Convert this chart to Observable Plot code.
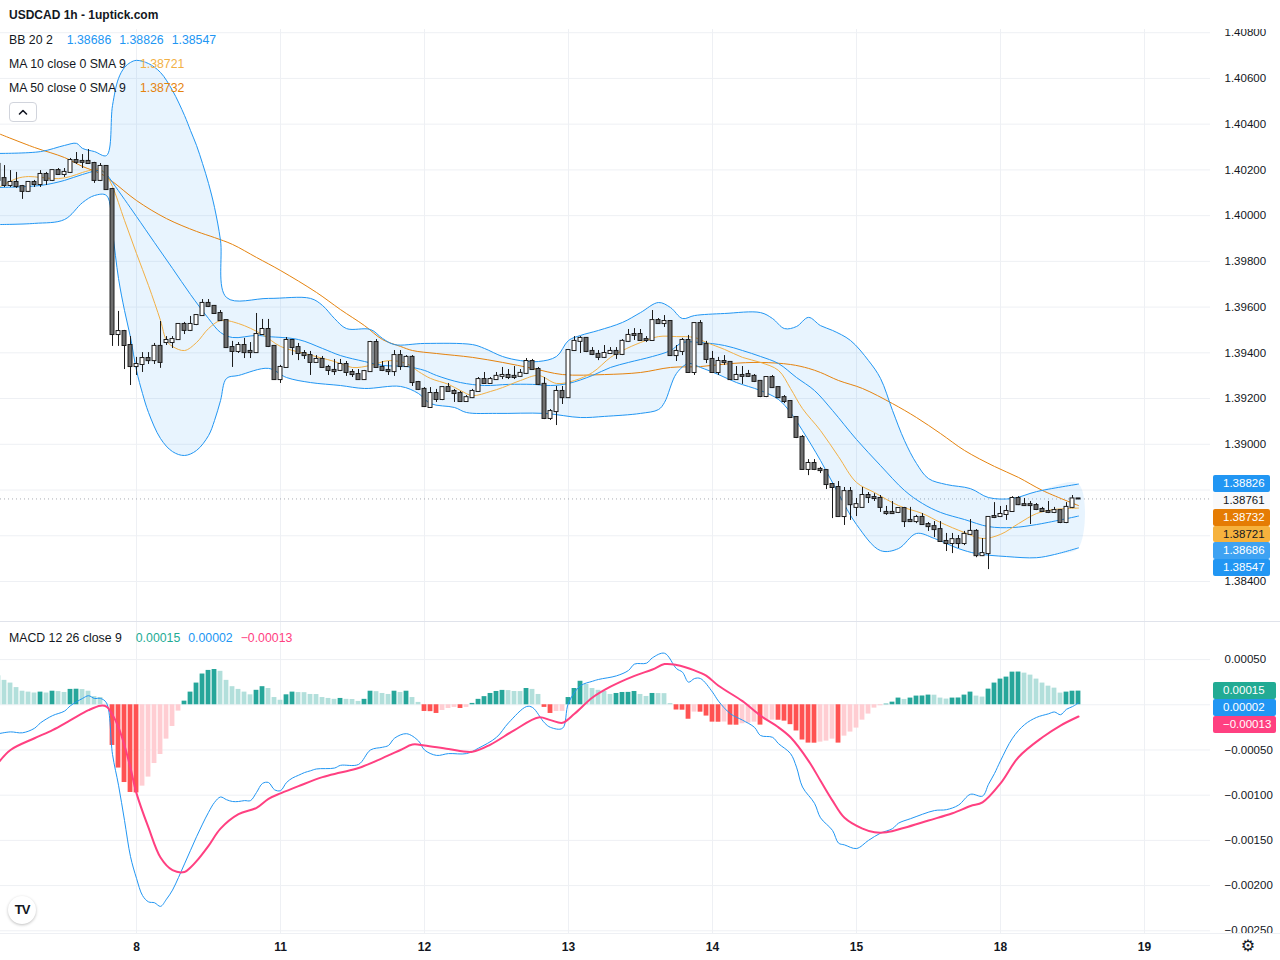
<!DOCTYPE html>
<html>
<head>
<meta charset="utf-8">
<title>USDCAD 1h</title>
<script src="https://cdn.jsdelivr.net/npm/d3@7"></script>
<script src="https://cdn.jsdelivr.net/npm/@observablehq/plot@0.6"></script>
<style>
  html, body { margin: 0; padding: 0; background: #ffffff; }
  #root { position: relative; width: 1280px; height: 960px; overflow: hidden; background: #fff;
          font-family: "Liberation Sans", Arial, sans-serif; color: #131722; }
  .legend { position: absolute; left: 9px; font-size: 12.3px; line-height: 18px; white-space: nowrap; color: #131722; z-index: 5; }
  .legend .v { margin-left: 8px; }
  .legend .v.first { margin-left: 14px; }
  .tag { position: absolute; left: 1213px; font-size: 11.5px; padding-left: 10px;
         box-sizing: border-box; z-index: 6; border-radius: 2px; white-space: nowrap; }
</style>
</head>
<body>
<div id="root"></div>
<script>
// ---------------- DATA (hourly bars; bar 0 = first bar of day 8) ----------------
const firstBar = -23;
const open = [
  1.40224,1.40162,1.40132,1.40145,1.40127,1.40106,1.40145,1.40136,1.40180,1.40154,
  1.40197,1.40180,1.40189,1.40241,1.40237,1.40237,1.40228,1.40154,1.40215,1.40114,
  1.39480,1.39493,1.39432,1.39340,1.39349,1.39375,1.39366,1.39428,1.39445,1.39445,
  1.39458,1.39524,1.39498,1.39524,1.39563,1.39616,1.39603,1.39572,1.39541,1.39423,
  1.39406,1.39432,1.39406,1.39401,1.39480,1.39502,1.39428,1.39283,1.39336,1.39454,
  1.39423,1.39397,1.39388,1.39358,1.39371,1.39336,1.39323,1.39323,1.39349,1.39314,
  1.39305,1.39283,1.39318,1.39445,1.39336,1.39323,1.39318,1.39388,1.39340,1.39380,
  1.39270,1.39240,1.39161,1.39222,1.39196,1.39248,1.39231,1.39222,1.39187,1.39204,
  1.39231,1.39283,1.39266,1.39283,1.39297,1.39301,1.39297,1.39297,1.39310,1.39362,
  1.39327,1.39262,1.39113,1.39143,1.39231,1.39204,1.39410,1.39450,1.39463,1.39406,
  1.39393,1.39380,1.39397,1.39406,1.39393,1.39450,1.39480,1.39480,1.39458,1.39454,
  1.39541,1.39528,1.39537,1.39388,1.39406,1.39454,1.39314,1.39528,1.39436,1.39371,
  1.39314,1.39362,1.39358,1.39283,1.39301,1.39305,1.39297,1.39275,1.39209,1.39292,
  1.39248,1.39204,1.39187,1.39117,1.39030,1.38890,1.38916,1.38890,1.38885,1.38824,
  1.38811,1.38684,1.38793,1.38724,1.38724,1.38776,1.38767,1.38763,1.38702,1.38702,
  1.38702,1.38719,1.38667,1.38662,1.38680,1.38649,1.38640,1.38627,1.38575,1.38566,
  1.38583,1.38566,1.38606,1.38619,1.38513,1.38522,1.38684,1.38684,1.38693,1.38706,
  1.38763,1.38736,1.38736,1.38732,1.38715,1.38706,1.38702,1.38710,1.38658,1.38724,
  1.38761
];
const high = [
  1.40241,1.40219,1.40197,1.40189,1.40132,1.40145,1.40154,1.40197,1.40189,1.40197,
  1.40206,1.40206,1.40250,1.40276,1.40267,1.40289,1.40233,1.40228,1.40219,1.40119,
  1.39581,1.39498,1.39471,1.39380,1.39401,1.39401,1.39441,1.39537,1.39471,1.39471,
  1.39524,1.39533,1.39559,1.39563,1.39633,1.39633,1.39607,1.39585,1.39541,1.39450,
  1.39445,1.39463,1.39445,1.39572,1.39546,1.39546,1.39428,1.39345,1.39467,1.39454,
  1.39441,1.39410,1.39406,1.39388,1.39384,1.39345,1.39371,1.39371,1.39362,1.39327,
  1.39327,1.39323,1.39450,1.39458,1.39362,1.39362,1.39410,1.39410,1.39388,1.39388,
  1.39275,1.39248,1.39248,1.39240,1.39248,1.39266,1.39240,1.39231,1.39213,1.39240,
  1.39292,1.39314,1.39292,1.39314,1.39336,1.39327,1.39340,1.39327,1.39375,1.39371,
  1.39336,1.39292,1.39152,1.39253,1.39253,1.39410,1.39471,1.39471,1.39467,1.39423,
  1.39410,1.39432,1.39423,1.39423,1.39458,1.39502,1.39506,1.39502,1.39471,1.39585,
  1.39550,1.39563,1.39541,1.39432,1.39463,1.39476,1.39528,1.39541,1.39450,1.39406,
  1.39380,1.39388,1.39358,1.39340,1.39340,1.39323,1.39305,1.39275,1.39292,1.39301,
  1.39248,1.39213,1.39191,1.39117,1.39038,1.38933,1.38933,1.38899,1.38890,1.38828,
  1.38837,1.38811,1.38811,1.38763,1.38811,1.38789,1.38784,1.38776,1.38728,1.38750,
  1.38719,1.38724,1.38724,1.38689,1.38697,1.38658,1.38662,1.38662,1.38610,1.38610,
  1.38601,1.38619,1.38671,1.38627,1.38588,1.38680,1.38745,1.38728,1.38732,1.38771,
  1.38771,1.38763,1.38750,1.38741,1.38724,1.38750,1.38724,1.38710,1.38745,1.38776,
  1.38763
];
const low = [
  1.40141,1.40123,1.40123,1.40119,1.40071,1.40101,1.40123,1.40123,1.40132,1.40149,
  1.40176,1.40167,1.40184,1.40224,1.40206,1.40224,1.40141,1.40149,1.40110,1.39428,
  1.39428,1.39327,1.39257,1.39301,1.39314,1.39349,1.39349,1.39332,1.39432,1.39419,
  1.39454,1.39480,1.39493,1.39519,1.39559,1.39598,1.39568,1.39537,1.39419,1.39336,
  1.39397,1.39375,1.39375,1.39397,1.39476,1.39423,1.39279,1.39266,1.39336,1.39388,
  1.39366,1.39371,1.39301,1.39358,1.39332,1.39301,1.39301,1.39318,1.39297,1.39292,
  1.39279,1.39279,1.39318,1.39336,1.39318,1.39301,1.39297,1.39323,1.39336,1.39253,
  1.39235,1.39161,1.39161,1.39183,1.39191,1.39227,1.39183,1.39187,1.39187,1.39200,
  1.39227,1.39266,1.39266,1.39279,1.39283,1.39283,1.39283,1.39292,1.39305,1.39327,
  1.39257,1.39108,1.39104,1.39082,1.39174,1.39200,1.39406,1.39397,1.39401,1.39388,
  1.39366,1.39375,1.39393,1.39371,1.39388,1.39445,1.39454,1.39450,1.39445,1.39454,
  1.39524,1.39511,1.39384,1.39362,1.39388,1.39310,1.39301,1.39432,1.39353,1.39310,
  1.39301,1.39345,1.39279,1.39279,1.39262,1.39292,1.39270,1.39204,1.39204,1.39244,
  1.39200,1.39178,1.39113,1.39025,1.38890,1.38863,1.38885,1.38872,1.38802,1.38675,
  1.38680,1.38645,1.38667,1.38684,1.38724,1.38741,1.38750,1.38702,1.38689,1.38693,
  1.38697,1.38636,1.38658,1.38653,1.38645,1.38619,1.38592,1.38575,1.38531,1.38522,
  1.38544,1.38557,1.38601,1.38504,1.38509,1.38452,1.38675,1.38680,1.38667,1.38702,
  1.38732,1.38728,1.38649,1.38710,1.38702,1.38697,1.38697,1.38653,1.38653,1.38719,
  1.38758
];
const close = [
  1.40154,1.40132,1.40145,1.40127,1.40106,1.40145,1.40136,1.40180,1.40154,1.40197,
  1.40180,1.40189,1.40241,1.40233,1.40233,1.40228,1.40154,1.40215,1.40114,1.39480,
  1.39493,1.39432,1.39340,1.39349,1.39375,1.39366,1.39428,1.39358,1.39454,1.39458,
  1.39524,1.39498,1.39524,1.39563,1.39616,1.39603,1.39572,1.39541,1.39423,1.39406,
  1.39432,1.39401,1.39401,1.39480,1.39502,1.39428,1.39283,1.39336,1.39454,1.39423,
  1.39397,1.39388,1.39358,1.39371,1.39336,1.39323,1.39318,1.39349,1.39314,1.39305,
  1.39283,1.39318,1.39445,1.39336,1.39323,1.39318,1.39388,1.39340,1.39380,1.39270,
  1.39240,1.39165,1.39222,1.39196,1.39248,1.39231,1.39222,1.39187,1.39204,1.39231,
  1.39283,1.39266,1.39283,1.39297,1.39301,1.39292,1.39292,1.39310,1.39362,1.39327,
  1.39262,1.39113,1.39143,1.39231,1.39204,1.39410,1.39450,1.39463,1.39406,1.39393,
  1.39380,1.39397,1.39406,1.39393,1.39450,1.39476,1.39476,1.39454,1.39454,1.39541,
  1.39528,1.39537,1.39388,1.39406,1.39454,1.39314,1.39528,1.39436,1.39371,1.39314,
  1.39362,1.39358,1.39283,1.39301,1.39297,1.39297,1.39275,1.39209,1.39292,1.39248,
  1.39204,1.39187,1.39117,1.39030,1.38890,1.38916,1.38890,1.38885,1.38824,1.38811,
  1.38684,1.38793,1.38736,1.38736,1.38776,1.38767,1.38763,1.38724,1.38697,1.38697,
  1.38719,1.38662,1.38662,1.38680,1.38649,1.38640,1.38627,1.38575,1.38566,1.38583,
  1.38566,1.38606,1.38619,1.38513,1.38522,1.38680,1.38680,1.38693,1.38706,1.38763,
  1.38736,1.38732,1.38732,1.38715,1.38706,1.38702,1.38710,1.38658,1.38724,1.38761,
  1.38761
];

// Day boundaries on the time axis (bar index) and their labels
const dayStartBar = [0, 24, 48, 72, 96, 120, 144, 168];
const dayLabels = ["8", "11", "12", "13", "14", "15", "18", "19"];

const priceTicks = [1.384, 1.386, 1.388, 1.390, 1.392, 1.394, 1.396, 1.398, 1.400, 1.402, 1.404, 1.406, 1.408];
const macdTickLabels = [0.0005, -0.0005, -0.001, -0.0015, -0.002, -0.0025];
const macdGrid = [0.0005, 0, -0.0005, -0.001, -0.0015, -0.002, -0.0025];

// Bollinger Bands (20, 2) read at bar positions: [bar, value]
const bbUpper = [[-23,1.40272],[-16,1.40280],[-12,1.40307],[-10,1.40316],[-9,1.40294],[-7,1.40280],[-5,1.40263],[-4,1.40482],[-3,1.40600],[-2,1.40648],[-1,1.40670],[0,1.40679],[2,1.40665],[4,1.40626],[6,1.40547],[8,1.40438],[9,1.40372],[10,1.40307],[11,1.40228],[12,1.40141],[13,1.40036],[14,1.39891],[15,1.39642],[22,1.39638],[29,1.39638],[31,1.39607],[33,1.39550],[35,1.39506],[39,1.39502],[41,1.39463],[43,1.39436],[48,1.39441],[56,1.39436],[58,1.39419],[61,1.39384],[64,1.39366],[67,1.39362],[70,1.39384],[72,1.39454],[74,1.39476],[77,1.39498],[81,1.39533],[84,1.39576],[87,1.39620],[89,1.39598],[91,1.39550],[93,1.39563],[98,1.39572],[104,1.39576],[106,1.39550],[108,1.39506],[110,1.39515],[112,1.39555],[114,1.39519],[116,1.39498],[119,1.39454],[122,1.39366],[124,1.39288],[126,1.39148],[128,1.39016],[130,1.38916],[132,1.38850],[135,1.38824],[139,1.38806],[142,1.38767],[146,1.38763],[150,1.38793],[157,1.38826]];
const bbBasis = [[-23,1.40123],[-16,1.40132],[-12,1.40154],[-9,1.40180],[-6,1.40197],[-5,1.40180],[-4,1.40145],[-2,1.40071],[0,1.39996],[3,1.39882],[6,1.39769],[9,1.39655],[12,1.39550],[14,1.39489],[16,1.39467],[20,1.39476],[22,1.39471],[27,1.39458],[31,1.39419],[34,1.39388],[38,1.39362],[41,1.39345],[45,1.39340],[48,1.39323],[50,1.39301],[54,1.39270],[58,1.39257],[62,1.39262],[66,1.39262],[69,1.39257],[72,1.39266],[76,1.39301],[79,1.39336],[82,1.39358],[86,1.39384],[89,1.39410],[91,1.39445],[94,1.39445],[98,1.39432],[101,1.39410],[104,1.39384],[107,1.39353],[110,1.39292],[113,1.39235],[116,1.39148],[120,1.39021],[124,1.38907],[128,1.38798],[131,1.38741],[134,1.38702],[138,1.38671],[142,1.38640],[146,1.38636],[150,1.38649],[157,1.38686]];
const bbLower = [[-23,1.39961],[-17,1.39966],[-12,1.39983],[-9,1.40057],[-7,1.40088],[-5,1.40088],[-4,1.39926],[-3,1.39725],[-2,1.39585],[-1,1.39467],[0,1.39323],[1,1.39222],[2,1.39139],[4,1.39025],[6,1.38968],[8,1.38951],[10,1.38973],[12,1.39038],[13,1.39104],[14,1.39191],[15,1.39288],[17,1.39301],[22,1.39332],[25,1.39292],[29,1.39270],[34,1.39257],[38,1.39244],[44,1.39253],[47,1.39222],[49,1.39178],[53,1.39161],[55,1.39139],[60,1.39135],[68,1.39135],[74,1.39117],[78,1.39122],[84,1.39135],[87,1.39152],[88,1.39183],[90,1.39310],[92,1.39353],[94,1.39336],[97,1.39305],[100,1.39270],[104,1.39235],[107,1.39196],[109,1.39139],[111,1.39060],[114,1.38929],[117,1.38784],[120,1.38649],[124,1.38535],[127,1.38544],[130,1.38610],[133,1.38588],[137,1.38544],[140,1.38522],[145,1.38509],[150,1.38504],[153,1.38518],[157,1.38547]];

// Moving averages: [bar, value]
const ma10 = [[-23,1.40123],[-20,1.40162],[-18,1.40171],[-16,1.40167],[-13,1.40162],[-11,1.40171],[-9,1.40189],[-7,1.40202],[-6,1.40202],[-5,1.40176],[-4,1.40127],[-2,1.39979],[0,1.39834],[2,1.39694],[4,1.39541],[5,1.39454],[6,1.39428],[8,1.39410],[10,1.39445],[12,1.39506],[14,1.39541],[17,1.39528],[21,1.39480],[24,1.39428],[28,1.39397],[33,1.39362],[36,1.39336],[39,1.39345],[42,1.39366],[45,1.39353],[47,1.39318],[49,1.39288],[52,1.39262],[54,1.39235],[56,1.39213],[59,1.39231],[61,1.39248],[64,1.39279],[67,1.39301],[70,1.39266],[73,1.39279],[76,1.39314],[79,1.39380],[81,1.39410],[84,1.39445],[87,1.39471],[90,1.39471],[93,1.39467],[95,1.39445],[98,1.39415],[101,1.39380],[104,1.39358],[107,1.39323],[109,1.39244],[111,1.39156],[114,1.39060],[117,1.38946],[120,1.38833],[123,1.38789],[127,1.38732],[131,1.38697],[134,1.38658],[138,1.38614],[141,1.38588],[144,1.38606],[147,1.38653],[150,1.38697],[153,1.38715],[157,1.38721]];
const ma50 = [[-23,1.40359],[-17,1.40298],[-12,1.40254],[-9,1.40215],[-6,1.40184],[-4,1.40149],[0,1.40066],[5,1.39987],[10,1.39931],[13,1.39904],[16,1.39874],[20,1.39817],[24,1.39760],[30,1.39664],[34,1.39589],[38,1.39519],[41,1.39458],[44,1.39428],[46,1.39410],[50,1.39397],[56,1.39380],[61,1.39358],[66,1.39332],[71,1.39305],[78,1.39305],[84,1.39314],[89,1.39336],[94,1.39340],[99,1.39353],[104,1.39358],[109,1.39349],[112,1.39332],[114,1.39314],[117,1.39279],[121,1.39244],[126,1.39178],[130,1.39117],[134,1.39047],[138,1.38973],[143,1.38903],[147,1.38855],[151,1.38798],[157,1.38732]];

// MACD (12, 26, 9)
const macdLine = [[-23,-0.00032],[-21,-0.00030],[-19,-0.00031],[-17,-0.00026],[-16,-0.00020],[-14,-0.00012],[-12,-0.00007],[-11,-0.00001],[-9,0.00007],[-8,0.00010],[-7,0.00007],[-6,0.00007],[-5,0.00002],[-4,-0.00055],[-3,-0.00089],[-2,-0.00128],[-1,-0.00168],[0,-0.00192],[1,-0.00211],[2,-0.00218],[3,-0.00219],[4,-0.00223],[5,-0.00215],[6,-0.00205],[7,-0.00191],[8,-0.00176],[9,-0.00161],[10,-0.00146],[11,-0.00132],[12,-0.00119],[13,-0.00108],[14,-0.00102],[15,-0.00105],[16,-0.00107],[17,-0.00107],[18,-0.00106],[19,-0.00106],[20,-0.00097],[21,-0.00087],[22,-0.00086],[23,-0.00094],[24,-0.00095],[25,-0.00086],[26,-0.00081],[27,-0.00078],[28,-0.00075],[29,-0.00073],[30,-0.00071],[33,-0.00070],[34,-0.00067],[37,-0.00066],[39,-0.00050],[41,-0.00047],[42,-0.00045],[43,-0.00037],[45,-0.00032],[47,-0.00040],[48,-0.00050],[50,-0.00056],[52,-0.00054],[55,-0.00054],[57,-0.00048],[60,-0.00036],[62,-0.00020],[65,-0.00002],[66,-0.00003],[68,-0.00020],[69,-0.00025],[71,-0.00026],[72,0.00002],[74,0.00021],[76,0.00026],[77,0.00028],[80,0.00032],[82,0.00038],[83,0.00045],[85,0.00046],[86,0.00052],[88,0.00057],[90,0.00040],[91,0.00036],[92,0.00025],[93,0.00029],[94,0.00029],[96,0.00014],[97,0.00004],[99,-0.00010],[101,-0.00017],[103,-0.00025],[104,-0.00034],[106,-0.00036],[107,-0.00043],[109,-0.00054],[110,-0.00069],[111,-0.00091],[113,-0.00109],[114,-0.00125],[116,-0.00139],[117,-0.00153],[118,-0.00155],[120,-0.00159],[122,-0.00150],[124,-0.00142],[126,-0.00137],[127,-0.00131],[129,-0.00126],[133,-0.00117],[135,-0.00116],[137,-0.00111],[139,-0.00099],[141,-0.00101],[142,-0.00088],[143,-0.00076],[144,-0.00062],[146,-0.00037],[148,-0.00022],[150,-0.00014],[152,-0.00010],[153,-0.00008],[154,-0.00011],[155,-0.00005],[156,-0.00002],[157,0.00002]];
const signalLine = [[-23,-0.00064],[-21,-0.00050],[-17,-0.00037],[-14,-0.00028],[-11,-0.00017],[-8,-0.00006],[-6,-0.00001],[-5,-0.00002],[-4,-0.00011],[-3,-0.00025],[-2,-0.00045],[-1,-0.00070],[0,-0.00098],[2,-0.00136],[4,-0.00169],[6,-0.00183],[8,-0.00185],[9,-0.00180],[10,-0.00173],[12,-0.00156],[14,-0.00137],[17,-0.00121],[20,-0.00114],[22,-0.00104],[24,-0.00098],[27,-0.00090],[31,-0.00080],[34,-0.00075],[37,-0.00070],[41,-0.00059],[44,-0.00050],[46,-0.00044],[48,-0.00045],[52,-0.00049],[56,-0.00052],[59,-0.00044],[63,-0.00028],[67,-0.00014],[69,-0.00017],[71,-0.00020],[73,-0.00010],[76,0.00008],[79,0.00020],[83,0.00032],[86,0.00039],[88,0.00045],[90,0.00044],[93,0.00038],[95,0.00032],[97,0.00021],[101,0.00004],[104,-0.00012],[107,-0.00025],[109,-0.00036],[112,-0.00062],[114,-0.00084],[116,-0.00106],[118,-0.00125],[121,-0.00137],[123,-0.00141],[125,-0.00141],[128,-0.00136],[132,-0.00128],[136,-0.00120],[139,-0.00112],[141,-0.00108],[144,-0.00087],[147,-0.00058],[151,-0.00036],[154,-0.00023],[157,-0.00013]];
const histogram = [
  0.000320,0.000270,0.000240,0.000190,0.000150,0.000140,0.000130,0.000140,0.000130,0.000150,
  0.000146,0.000136,0.000170,0.000172,0.000168,0.000150,0.000090,0.000080,0.000005,-0.000450,
  -0.000700,-0.000860,-0.000970,-0.000975,-0.000900,-0.000800,-0.000650,-0.000550,-0.000380,-0.000240,
  -0.000070,0.000040,0.000140,0.000240,0.000340,0.000380,0.000390,0.000370,0.000270,0.000200,
  0.000170,0.000140,0.000110,0.000160,0.000200,0.000180,0.000080,0.000050,0.000110,0.000140,
  0.000135,0.000134,0.000114,0.000113,0.000080,0.000070,0.000060,0.000070,0.000060,0.000058,
  0.000037,0.000060,0.000150,0.000145,0.000125,0.000114,0.000150,0.000136,0.000150,0.000080,
  0.000026,-0.000074,-0.000076,-0.000096,-0.000063,-0.000041,-0.000029,-0.000041,-0.000029,0.000015,
  0.000060,0.000090,0.000125,0.000147,0.000159,0.000157,0.000147,0.000146,0.000180,0.000170,
  0.000114,-0.000029,-0.000096,-0.000074,-0.000073,0.000080,0.000180,0.000260,0.000225,0.000180,
  0.000160,0.000147,0.000114,0.000125,0.000136,0.000137,0.000147,0.000114,0.000092,0.000125,
  0.000124,0.000123,0.000013,-0.000058,-0.000060,-0.000160,-0.000081,-0.000082,-0.000125,-0.000192,
  -0.000193,-0.000191,-0.000225,-0.000226,-0.000210,-0.000202,-0.000192,-0.000225,-0.000170,-0.000169,
  -0.000171,-0.000181,-0.000220,-0.000290,-0.000390,-0.000424,-0.000425,-0.000413,-0.000402,-0.000380,
  -0.000424,-0.000347,-0.000302,-0.000258,-0.000170,-0.000103,-0.000037,-0.000011,0.000007,0.000029,
  0.000074,0.000059,0.000074,0.000096,0.000097,0.000107,0.000106,0.000074,0.000063,0.000074,
  0.000075,0.000107,0.000140,0.000096,0.000085,0.000173,0.000240,0.000284,0.000306,0.000361,
  0.000362,0.000350,0.000328,0.000284,0.000240,0.000206,0.000184,0.000129,0.000140,0.000150,
  0.000151
];

// ---------------- STYLE ----------------
const C = {
  grid: "#eef0f4", wick: "#1b1b1b", down: "#6f6f6f", up: "#ffffff",
  bb: "#2196f3", ma10: "#f2b045", ma50: "#e5830e",
  macd: "#2196f3", signal: "#ff4081",
  histUpStrong: "#26a69a", histUpWeak: "#b2dfdb", histDnStrong: "#ff5252", histDnWeak: "#ffcdd2"
};
const FONT = '"Liberation Sans", Arial, sans-serif';
const curve = "catmull-rom";
const xScale = {domain: [-22.67, 179], axis: null};
const pt = {x: d => d[0], y: d => d[1]};
const fmt5 = v => (v < 0 ? "\u2212" : "") + Math.abs(v).toFixed(5);
const lastOf = a => a[a.length - 1][1];
const TAG_H = 16.8;

const priceDomain = [1.38225, 1.40814], PRICE_TOP = 29, PRICE_H = 592;
const macdDomain = [-0.00253, 0.00091], MACD_TOP = 622, MACD_H = 311;

const bars = d3.range(firstBar, firstBar + close.length);
const candles = bars.map((k, i) => ({k, o: open[i], h: high[i], l: low[i], c: close[i]}));
const histData = bars.map((k, i) => {
  const v = histogram[i], p = i > 0 ? histogram[i - 1] : null;
  let fill;
  if (v >= 0) fill = (p !== null && v > p) ? C.histUpStrong : C.histUpWeak;
  else fill = (p !== null && v < p) ? C.histDnStrong : C.histDnWeak;
  return {k, v, fill};
});
const bandPolygon = bbUpper.concat(bbLower.slice().reverse());

// Value tags on the right axes, stacked so that they do not overlap
function layoutTags(items, domain, h) {
  const y = d3.scaleLinear().domain(domain).range([h, 0]);
  items.forEach(it => it.y = y(it.v));
  items.sort((a, b) => a.y - b.y);
  let prev = -Infinity;
  for (const it of items) { it.top = Math.max(it.y - TAG_H / 2, prev); prev = it.top + TAG_H; }
  return {items, y};
}
const priceTagLayout = layoutTags([
  {v: lastOf(bbUpper), bg: "#2196f3", fg: "#ffffff"},
  {v: close[close.length - 1], bg: "#f8f9fb", fg: "#131722"},
  {v: lastOf(ma50), bg: "#e57c03", fg: "#ffffff"},
  {v: lastOf(ma10), bg: "#f6b23d", fg: "#131722"},
  {v: lastOf(bbBasis), bg: "#3ea2f2", fg: "#ffffff"},
  {v: lastOf(bbLower), bg: "#2196f3", fg: "#ffffff"}
], priceDomain, PRICE_H);
const macdTagLayout = layoutTags([
  {v: histogram[histogram.length - 1], bg: "#22ab94", fg: "#ffffff"},
  {v: lastOf(macdLine), bg: "#2196f3", fg: "#ffffff"},
  {v: lastOf(signalLine), bg: "#ff4081", fg: "#ffffff"}
], macdDomain, MACD_H);
// axis tick labels hidden behind a tag are not drawn (as on the original)
const visibleTicks = (ticks, layout) => ticks.filter(t => {
  const ty = layout.y(t);
  return layout.items.every(it => ty < it.top || ty > it.top + TAG_H);
});

const root = document.getElementById("root");
function addDiv(css, html) {
  const d = document.createElement("div");
  d.style.cssText = css;
  if (html != null) d.innerHTML = html;
  root.appendChild(d);
  return d;
}

// ---------------- PRICE PANE ----------------
const pricePlot = Plot.plot({
  width: 1280, height: PRICE_H,
  marginLeft: 0, marginRight: 70, marginTop: 0, marginBottom: 0,
  style: {background: "transparent", fontFamily: FONT, fontSize: "11.5px", color: "#131722"},
  x: xScale,
  y: {domain: priceDomain, axis: "right", ticks: visibleTicks(priceTicks, priceTagLayout),
      tickFormat: d => d.toFixed(5), tickSize: 0, tickPadding: 14, label: null},
  color: {type: "identity"},
  marks: [
    Plot.ruleY(priceTicks, {stroke: C.grid, strokeWidth: 1}),
    Plot.ruleX(dayStartBar, {stroke: C.grid, strokeWidth: 1}),
    Plot.ruleY([close[close.length - 1]], {stroke: "#9598a1", strokeDasharray: "1,3", strokeOpacity: 0.8}),
    Plot.line(bandPolygon, {...pt, fill: C.bb, fillOpacity: 0.1, stroke: "none", curve}),
    Plot.line(ma50, {...pt, stroke: C.ma50, strokeWidth: 1, curve}),
    Plot.line(bbUpper, {...pt, stroke: C.bb, strokeWidth: 1, curve}),
    Plot.line(bbLower, {...pt, stroke: C.bb, strokeWidth: 1, curve}),
    Plot.line(bbBasis, {...pt, stroke: C.bb, strokeWidth: 1, curve}),
    Plot.line(ma10, {...pt, stroke: C.ma10, strokeWidth: 1, curve}),
    Plot.ruleX(candles, {x: "k", y1: "l", y2: "h", stroke: C.wick, strokeWidth: 1}),
    Plot.rect(candles, {
      x1: d => d.k - 0.33, x2: d => d.k + 0.33, y1: "o", y2: "c",
      insetTop: -0.5, insetBottom: -0.5,
      fill: d => d.c >= d.o ? C.up : C.down, stroke: C.wick, strokeWidth: 1
    })
  ]
});
addDiv(`position:absolute;left:0;top:${PRICE_TOP}px;width:1280px;height:${PRICE_H}px;`).appendChild(pricePlot);

// pane separators
addDiv("position:absolute;left:0;top:621px;width:1280px;height:1px;background:#e0e3eb;");
addDiv("position:absolute;left:0;top:933px;width:1280px;height:1px;background:#eef0f4;");

// ---------------- MACD PANE ----------------
const macdPlot = Plot.plot({
  width: 1280, height: MACD_H,
  marginLeft: 0, marginRight: 70, marginTop: 0, marginBottom: 0,
  style: {background: "transparent", fontFamily: FONT, fontSize: "11.5px", color: "#131722"},
  x: xScale,
  y: {domain: macdDomain, axis: "right", ticks: visibleTicks(macdTickLabels, macdTagLayout), tickFormat: fmt5,
      tickSize: 0, tickPadding: 14, label: null},
  color: {type: "identity"},
  marks: [
    Plot.ruleY(macdGrid, {stroke: C.grid, strokeWidth: 1}),
    Plot.ruleX(dayStartBar, {stroke: C.grid, strokeWidth: 1}),
    Plot.rect(histData, {x1: d => d.k - 0.4, x2: d => d.k + 0.4, y1: d => 0, y2: "v", fill: "fill"}),
    Plot.line(macdLine, {...pt, stroke: C.macd, strokeWidth: 1, curve}),
    Plot.line(signalLine, {...pt, stroke: C.signal, strokeWidth: 2, curve})
  ]
});
addDiv(`position:absolute;left:0;top:${MACD_TOP}px;width:1280px;height:${MACD_H}px;`).appendChild(macdPlot);

// ---------------- TIME AXIS ----------------
const timePlot = Plot.plot({
  width: 1280, height: 26,
  marginLeft: 0, marginRight: 70, marginTop: 0, marginBottom: 0,
  style: {background: "transparent", fontFamily: FONT, color: "#131722"},
  x: xScale,
  marks: [
    Plot.text(dayStartBar, {x: d => d, text: (d, i) => dayLabels[i], frameAnchor: "middle",
      fontWeight: "bold", fontSize: 12, fill: "#131722"})
  ]
});
addDiv("position:absolute;left:0;top:934px;width:1280px;height:26px;").appendChild(timePlot);

// ---------------- LEGENDS ----------------
addDiv(`position:absolute;left:9px;top:6px;font-weight:bold;font-size:12px;line-height:18px;z-index:5;color:#131722;white-space:nowrap;`,
  "USDCAD 1h - 1uptick.com");
function legendRow(top, title, vals) {
  const spans = vals.map((v, i) =>
    `<span class="v${i === 0 ? " first" : ""}" style="color:${v.color}">${v.text}</span>`).join("");
  addDiv(`top:${top}px;`, `<span>${title}</span>${spans}`).className = "legend";
}
legendRow(31, "BB 20 2", [
  {text: lastOf(bbBasis).toFixed(5), color: C.bb},
  {text: lastOf(bbUpper).toFixed(5), color: C.bb},
  {text: lastOf(bbLower).toFixed(5), color: C.bb}
]);
legendRow(55, "MA 10 close 0 SMA 9", [{text: lastOf(ma10).toFixed(5), color: C.ma10}]);
legendRow(79, "MA 50 close 0 SMA 9", [{text: lastOf(ma50).toFixed(5), color: C.ma50}]);
legendRow(629, "MACD 12 26 close 9", [
  {text: fmt5(histogram[histogram.length - 1]), color: "#22ab94"},
  {text: fmt5(lastOf(macdLine)), color: C.macd},
  {text: fmt5(lastOf(signalLine)), color: C.signal}
]);
// collapse button
addDiv("position:absolute;left:9px;top:102px;width:28px;height:20px;box-sizing:border-box;border:1px solid #d1d4dc;border-radius:4px;background:#fff;z-index:5;",
  '<svg width="26" height="18" style="display:block"><polyline points="9.5,11 13,7.5 16.5,11" fill="none" stroke="#131722" stroke-width="1.6" stroke-linecap="round" stroke-linejoin="round"/></svg>');

// ---------------- VALUE TAGS ----------------
function drawTags(layout, offset, width) {
  for (const it of layout.items) {
    addDiv(`top:${offset + it.top}px;width:${width}px;height:${TAG_H}px;line-height:${TAG_H}px;background:${it.bg};color:${it.fg};`,
      fmt5(it.v)).className = "tag";
  }
}
drawTags(priceTagLayout, PRICE_TOP, 57);
drawTags(macdTagLayout, MACD_TOP, 63);

// ---------------- DECORATIONS ----------------
addDiv("position:absolute;left:8px;top:896px;width:28px;height:28px;border-radius:50%;background:#fff;box-shadow:0 1px 3px rgba(0,0,0,0.25);z-index:5;text-align:center;line-height:28px;font-weight:bold;font-size:13px;letter-spacing:-1px;color:#131722;",
  "TV");
addDiv("position:absolute;left:1238px;top:936px;width:20px;height:20px;font-size:16px;line-height:20px;text-align:center;color:#131722;font-family:'DejaVu Sans',sans-serif;z-index:5;",
  "\u2699");
</script>
</body>
</html>
